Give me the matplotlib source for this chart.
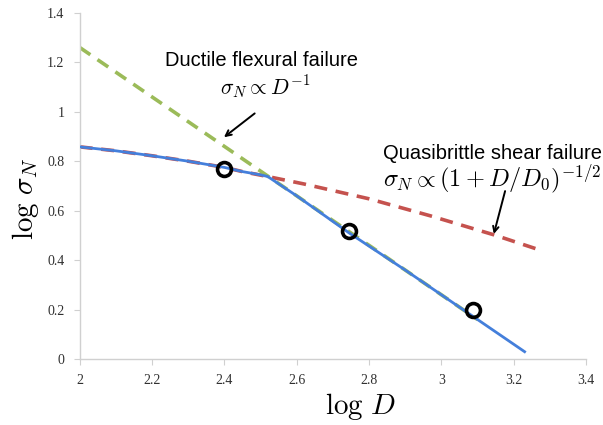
import matplotlib
matplotlib.use("Agg")
import matplotlib.pyplot as plt

plt.rcParams['mathtext.fontset'] = 'cm'

# data
blue_x = [2.0, 2.1, 2.2, 2.3, 2.4, 2.45, 2.5, 2.52, 2.6, 2.745, 2.9, 3.09, 3.23]
blue_y = [0.858, 0.842, 0.822, 0.800, 0.775, 0.758, 0.745, 0.738, 0.66, 0.51, 0.36, 0.17, 0.03]
green_x = [2.0, 3.1]
green_y = [1.26, 0.16]
red_x = [2.0, 2.1, 2.2, 2.3, 2.4, 2.45, 2.52, 2.62, 2.8, 2.97, 3.146, 3.27]
red_y = [0.858, 0.842, 0.822, 0.800, 0.775, 0.758, 0.738, 0.708, 0.648, 0.579, 0.502, 0.442]
pts_x = [2.4, 2.745, 3.088]
pts_y = [0.767, 0.517, 0.2]
xticks = [2, 2.2, 2.4, 2.6, 2.8, 3, 3.2, 3.4]
xticklabels = ['2', '2.2', '2.4', '2.6', '2.8', '3', '3.2', '3.4']
yticks = [0, 0.2, 0.4, 0.6, 0.8, 1, 1.2, 1.4]
yticklabels = ['0', '0.2', '0.4', '0.6', '0.8', '1', '1.2', '1.4']

fig = plt.figure(figsize=(6.03, 4.25), dpi=100)
ax = fig.add_axes([0.132, 0.155, 0.840, 0.815])

ax.plot(red_x, red_y, color='#c5524e', lw=2.6, dashes=(3.6, 2.4), zorder=2)
ax.plot(green_x, green_y, color='#9bbb59', lw=2.6, dashes=(3.6, 2.4), zorder=2)
ax.plot(blue_x, blue_y, color='#447fdb', lw=2.0, zorder=3)
ax.plot(pts_x, pts_y, 'o', ms=10, mfc='none', mec='black', mew=2.6, zorder=4)

ax.set_xlim(2, 3.4)
ax.set_ylim(0, 1.4)
ax.set_xticks(xticks)
ax.set_xticklabels(xticklabels)
ax.set_yticks(yticks)
ax.set_yticklabels(yticklabels)
for s in ['top', 'right']:
    ax.spines[s].set_visible(False)
for s in ['left', 'bottom']:
    ax.spines[s].set_color('#d0d0d0')
    ax.spines[s].set_linewidth(1.0)
ax.tick_params(direction='out', length=4, color='#d0d0d0', labelcolor='#303030',
               labelsize=10, pad=7)
for lab in ax.get_xticklabels() + ax.get_yticklabels():
    lab.set_family('Liberation Serif')

ax.set_xlabel(r'$\log\,D$', fontsize=21)
ax.set_ylabel(r'$\log\,\sigma_N$', fontsize=21)
ax.xaxis.set_label_coords(0.555, -0.092)
ax.yaxis.set_label_coords(-0.076, 0.463)

ax.text(2.235, 1.206, 'Ductile flexural failure', fontsize=14.5, family='Liberation Sans',
        ha='left', va='center')
ax.text(2.387, 1.098, r'$\sigma_N \propto D^{-1}$', fontsize=15.5, ha='left', va='center')
ax.annotate('', xy=(2.393, 0.89), xytext=(2.49, 1.0),
            arrowprops=dict(arrowstyle='->', color='black', lw=1.4))

ax.text(2.838, 0.83, 'Quasibrittle shear failure', fontsize=14.5, family='Liberation Sans',
        ha='left', va='center')
ax.text(2.838, 0.728, r'$\sigma_N \propto (1 + D/D_0)^{-1/2}$', fontsize=17.5,
        ha='left', va='center')
ax.annotate('', xy=(3.143, 0.495), xytext=(3.178, 0.69),
            arrowprops=dict(arrowstyle='->', color='black', lw=1.4))

fig.savefig('out.png', dpi=100)
